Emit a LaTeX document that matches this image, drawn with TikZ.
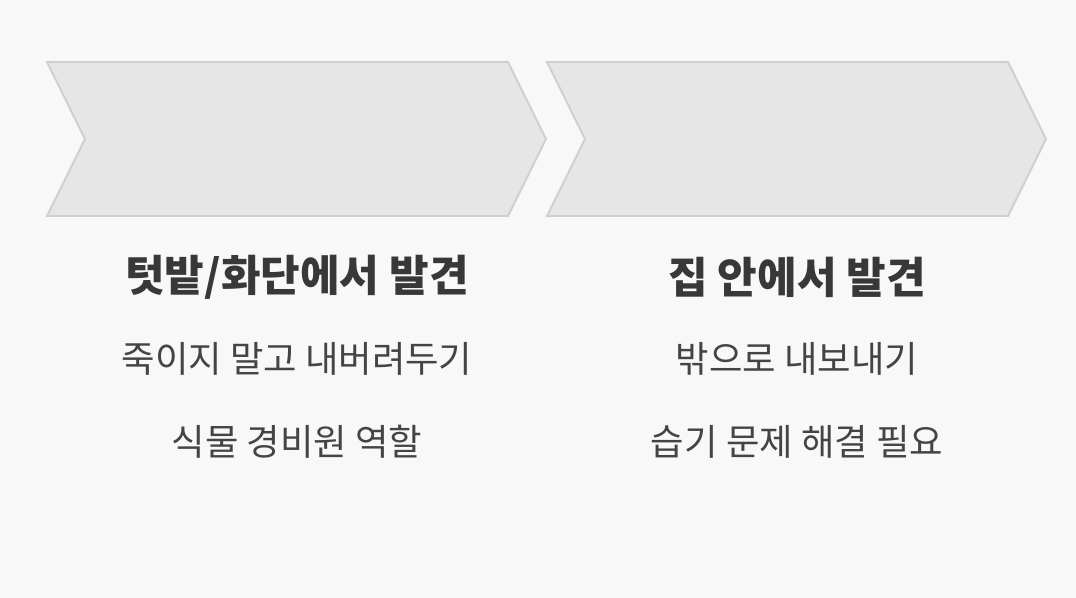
\documentclass[tikz,border=0pt]{standalone}
\usepackage{fontspec}
\newfontfamily\cjk{Noto Sans CJK KR}
\definecolor{bgcol}{HTML}{F8F8F8}
\definecolor{chevfill}{HTML}{E6E6E6}
\definecolor{chevline}{HTML}{CFCFCF}
\definecolor{headcol}{HTML}{383838}
\definecolor{itemcol}{HTML}{444444}
\begin{document}
\begin{tikzpicture}
    [
    x=0.02cm, y=-0.02cm,
    chevron/.style={fill=chevfill,draw=chevline,line width=1.1pt,line join=miter},
    heading/.style={font=\cjk\bfseries\fontsize{24.5}{28}\selectfont,text=headcol,inner sep=0pt},
    item/.style={font=\cjk\fontsize{20.7}{24}\selectfont,text=itemcol,inner sep=0pt}
    ]
    \fill [bgcol] (0,0) rectangle (1076,598);
    \draw [chevron] (47,62) -- (508,62) -- (546,139) -- (508,216) -- (47,216) -- (85,139) -- cycle;
    \draw [chevron] (547,62) -- (1008,62) -- (1046,139) -- (1008,216) -- (547,216) -- (585,139) -- cycle;
    \node (h1) at (297,277) [heading] {텃밭/화단에서 발견};
    \node (a1) at (297,359) [item] {죽이지 말고 내버려두기};
    \node (b1) at (297,442) [item] {식물 경비원 역할};
    \node (h2) at (797,277) [heading] {집 안에서 발견};
    \node (a2) at (797,359) [item] {밖으로 내보내기};
    \node (b2) at (797,442) [item] {습기 문제 해결 필요};
\end{tikzpicture}
\end{document}
